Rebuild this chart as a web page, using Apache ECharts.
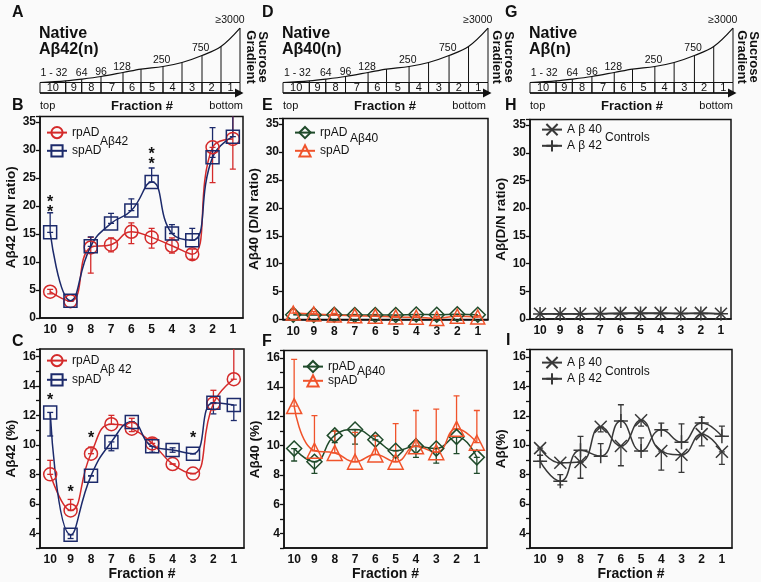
<!DOCTYPE html>
<html><head><meta charset="utf-8">
<script src="https://cdn.jsdelivr.net/npm/echarts/dist/echarts.min.js"></script>
<style>html,body{margin:0;padding:0;background:#fafafa}#c{width:761px;height:582px}</style>
</head><body><div id="c"></div>
<script>
const FONT = 'Liberation Sans, Arial, Helvetica, sans-serif';
const fractions = ['10','9','8','7','6','5','4','3','2','1'];

// sucrose gradient schematic (A, D, G)
const gradientBounds  = [0, 25.7, 41.7, 61, 83, 101, 123, 142, 162, 181, 200];
const gradientHeights = [0, 1.7, 3.4, 6, 10, 13.4, 16, 20, 27, 36, 54.4];
const sizeLabels = ['1 - 32','64','96','128','250','750','≥3000'];
const sizeLabelX = [14, 41.7, 61, 82, 121.7, 160.7, 190];
const sizeLabelY = [9.2, 9.5, 10.8, 15.8, 22.5, 34.2, 62.5];

// B: Abeta42 D/N ratio
const b_rp = [4.7, 3.0, 12.6, 13.1, 15.4, 14.4, 12.9, 11.4, 30.5, 32.0];
const b_sp = [15.3, 3.1, 12.8, 16.9, 19.2, 24.3, 15.1, 13.9, 28.7, 32.4];
const b_rp_lo = [4.3, 3.0, 8.0, 11.8, 13.3, 12.5, 11.6, 10.5, 24.2, 26.6];
const b_rp_hi = [5.1, 3.0, 14.4, 14.3, 17.0, 16.0, 14.3, 12.3, 30.5, 37];
const b_sp_lo = [15.3, 3.1, 12.8, 16.9, 19.2, 24.3, 15.1, 13.9, 28.7, 32.4];
const b_sp_hi = [18.8, 3.1, 14.5, 18.7, 21.3, 26.8, 16.7, 16.0, 34.0, 37];
const b_stars = [[0, 20.3, '*\n*'], [5, 28.9, '*\n*']];

// C: Abeta42 %
const c_rp = [8.0, 5.55, 9.4, 11.4, 11.1, 10.1, 8.7, 8.05, 12.8, 14.45];
const c_sp = [12.2, 3.9, 7.9, 10.2, 11.55, 9.9, 9.65, 9.4, 12.85, 12.7];
const c_rp_lo = [8.0, 5.55, 9.4, 11.4, 10.9, 10.1, 8.7, 8.05, 12.8, 14.45];
const c_rp_hi = [8.95, 6.3, 9.85, 12.0, 11.8, 10.45, 8.7, 8.05, 13.7, 16.6];
const c_sp_lo = [10.6, 3.65, 7.9, 9.6, 11.55, 9.5, 9.5, 9.4, 12.1, 11.65];
const c_sp_hi = [12.2, 3.9, 7.9, 10.2, 11.55, 9.9, 9.8, 9.4, 12.85, 12.7];
const c_stars = [[0, 13.2, '*'], [1, 6.95, '*'], [2, 10.6, '*'], [7, 10.6, '*']];

// E: Abeta40 D/N ratio
const e_rp = [0.85, 0.8, 0.85, 0.8, 0.8, 0.8, 0.9, 0.85, 0.95, 0.85];
const e_sp = [1.15, 1.0, 0.8, 0.65, 0.6, 0.45, 0.4, 0.2, 0.6, 0.45];
const e_sp_lo = [1.15, 1.0, 0.8, 0.65, 0.6, 0.45, 0.4, 0.2, 0.6, 0.45];
const e_sp_hi = [1.8, 1.4, 1.1, 0.9, 0.9, 0.7, 0.7, 0.5, 0.9, 0.7];

// F: Abeta40 %
const f_rp = [9.8, 8.9, 10.7, 11.1, 10.4, 9.65, 9.95, 9.8, 10.6, 9.2];
const f_sp = [12.7, 9.65, 9.5, 8.9, 9.4, 8.9, 9.95, 9.55, 11.15, 10.2];
const f_rp_lo = [8.95, 8.1, 10.2, 10.1, 10.4, 9.2, 9.2, 8.8, 9.45, 8.1];
const f_rp_hi = [9.8, 8.9, 11.0, 11.1, 10.65, 9.65, 9.95, 9.8, 10.6, 9.2];
const f_sp_lo = [12.7, 9.65, 9.5, 8.9, 9.4, 8.9, 9.95, 9.55, 11.15, 10.2];
const f_sp_hi = [15.9, 12.05, 11.0, 10.9, 10.7, 11.5, 12.4, 12.5, 13.4, 12.4];

// H: controls D/N ratio
const h_40 = [0.95, 0.95, 0.95, 1.0, 1.1, 1.1, 1.1, 1.0, 1.1, 0.95];
const h_42 = [0.9, 0.9, 0.9, 0.95, 0.95, 1.0, 1.0, 1.0, 1.0, 0.95];

// I: controls %
const i_40 = [9.8, 8.8, 8.85, 11.25, 9.95, 11.7, 9.6, 9.35, 10.75, 9.55];
const i_42 = [8.9, 7.55, 9.65, 9.25, 11.65, 9.6, 11.05, 10.2, 11.5, 10.6];
const i_40_lo = [9.3, 8.8, 8.85, 10.9, 8.6, 11.3, 8.3, 8.15, 9.95, 8.7];
const i_40_hi = [9.8, 8.8, 8.85, 11.25, 9.95, 11.7, 9.6, 9.35, 10.75, 9.55];
const i_42_lo = [8.9, 7.3, 7.75, 9.25, 11.65, 9.6, 11.05, 10.2, 11.5, 10.6];
const i_42_hi = [9.3, 8.0, 10.6, 10.1, 12.75, 10.5, 11.5, 11.45, 11.9, 11.3];

const RED = '#d42a2a', NAVY = '#1c2a6b', GREEN = '#1f4a2a', ORANGE = '#f0532b', GRAY = '#383838', INK = '#111';
const boxDepth = 10.5;
const CROSS = 'path://M0,0L10,10M10,0L0,10';
const PLUS = 'path://M5,0L5,10M0,5L10,5';

function txtStyle(text, font, align, valign) {
  return {text, font, fill: INK, align, textAlign: align, verticalAlign: valign || 'middle', textVerticalAlign: valign || 'middle'};
}

const grids = [
  {left: 40, top: 26, width: 200, height: 67},
  {left: 283, top: 26, width: 205, height: 67},
  {left: 530, top: 26, width: 203, height: 67},
  {left: 40, top: 116.5, width: 203, height: 201.5},
  {left: 40, top: 349, width: 204, height: 200},
  {left: 283, top: 118.5, width: 205, height: 201},
  {left: 284, top: 350.5, width: 203, height: 201.5},
  {left: 530, top: 119.5, width: 201, height: 199.5},
  {left: 530, top: 349.6, width: 202, height: 200}
].map((g, i) => Object.assign(g, i >= 3 ? {show: true, borderColor: INK, borderWidth: 1.5, backgroundColor: 'transparent'} : {}));

const xAxes = [], yAxes = [];
for (let k = 0; k < 3; k++) {
  xAxes.push({type: 'value', gridIndex: k, min: 0, max: 200, show: false});
  yAxes.push({type: 'value', gridIndex: k, min: -boxDepth, max: 56.5, show: false});
}
function catAxis(gi, withName) {
  return {type: 'category', gridIndex: gi, data: fractions, boundaryGap: true,
    axisLine: {lineStyle: {color: INK, width: 1.5}},
    axisTick: {alignWithLabel: true, length: 4, lineStyle: {color: INK, width: 1.3}},
    axisLabel: {interval: 0, margin: 6, color: INK, fontFamily: FONT, fontWeight: 'bold', fontSize: 12},
    name: withName ? 'Fraction #' : '', nameLocation: 'middle', nameGap: 17,
    nameTextStyle: {fontFamily: FONT, fontWeight: 'bold', fontSize: 14, color: INK},
    splitLine: {show: false}};
}
function valAxis(gi, name, gap, pct) {
  return {type: 'value', gridIndex: gi, min: pct ? 3 : 0, max: pct ? 16.5 : 36, interval: pct ? 1 : 5,
    name, nameLocation: 'middle', nameGap: gap, nameRotate: 90,
    nameTextStyle: {fontFamily: FONT, fontWeight: 'bold', fontSize: 13.5, color: INK},
    axisLine: {show: true, lineStyle: {color: INK, width: 1.5}},
    axisTick: {show: true, length: 4, lineStyle: {color: INK, width: 1.3}},
    axisLabel: {margin: 4, color: INK, fontFamily: FONT, fontWeight: 'bold', fontSize: 12,
      formatter: v => pct ? (v % 2 === 0 ? String(v) : '') : (v % 5 === 0 ? String(v) : '')},
    splitLine: {show: false}};
}
xAxes.push(catAxis(3, false), catAxis(4, true), catAxis(5, false), catAxis(6, true), catAxis(7, false), catAxis(8, true));
yAxes.push(valAxis(3, 'Aβ42 (D/N ratio)', 20, false), valAxis(4, 'Aβ42 (%)', 20, true),
           valAxis(5, 'Aβ40 (D/N ratio)', 17, false), valAxis(6, 'Aβ40 (%)', 18, true),
           valAxis(7, 'Aβ(D/N ratio)', 17, false), valAxis(8, 'Aβ(%)', 18, true));

const series = [];
// schematic series
for (let k = 0; k < 3; k++) {
  series.push({type: 'line', xAxisIndex: k, yAxisIndex: k, data: gradientBounds.map((b, i) => [b, gradientHeights[i]]),
    smooth: 0.35, symbol: 'none', lineStyle: {color: INK, width: 1.2}, silent: true, z: 2});
  series.push({type: 'custom', xAxisIndex: k, yAxisIndex: k, silent: true, z: 3,
    data: fractions.map((f, i) => [gradientBounds[i], gradientBounds[i + 1], gradientHeights[i + 1]]),
    renderItem: (params, api) => {
      const i = params.dataIndex;
      const p0 = api.coord([api.value(0), 0]);
      const p1 = api.coord([api.value(1), -boxDepth]);
      const pt = api.coord([api.value(1), api.value(2)]);
      const st = {stroke: INK, lineWidth: 1, fill: null};
      const ch = [
        {type: 'rect', shape: {x: p0[0], y: p0[1], width: p1[0] - p0[0], height: p1[1] - p0[1]}, style: {stroke: INK, lineWidth: 1, fill: 'rgba(0,0,0,0)'}},
        {type: 'text', x: (p0[0] + p1[0]) / 2, y: (p0[1] + p1[1]) / 2 + 0.5, style: txtStyle(fractions[i], '11px ' + FONT, 'center')},
        {type: 'line', shape: {x1: pt[0], y1: p0[1], x2: pt[0], y2: pt[1]}, style: st}
      ];
      if (i === fractions.length - 1) {
        const s = api.coord([0, -boxDepth]);
        ch.push({type: 'line', shape: {x1: s[0], y1: s[1], x2: p1[0] + 2, y2: p1[1]}, style: {stroke: INK, lineWidth: 1.5}});
        ch.push({type: 'polygon', shape: {points: [[p1[0] - 5, p1[1] - 4.5], [p1[0] + 3.5, p1[1]], [p1[0] - 5, p1[1] + 4.5]]}, style: {fill: INK}});
      }
      return {type: 'group', children: ch};
    }});
  series.push({type: 'custom', xAxisIndex: k, yAxisIndex: k, silent: true, z: 3,
    data: sizeLabels.map((s, i) => [sizeLabelX[i], sizeLabelY[i]]),
    renderItem: (params, api) => {
      const p = api.coord([api.value(0), api.value(1)]);
      return {type: 'text', x: p[0], y: p[1], style: txtStyle(sizeLabels[params.dataIndex], '10.5px ' + FONT, 'center')};
    }});
}

function lineS(name, gi, data, color, symbol, size) {
  return {type: 'line', name, xAxisIndex: gi, yAxisIndex: gi, data, smooth: 0.5, symbol, symbolSize: size,
    showAllSymbol: true, color, lineStyle: {color, width: 1.5},
    itemStyle: {color: 'rgba(0,0,0,0)', borderColor: color, borderWidth: 1.5}, z: 4, silent: true};
}
function errS(gi, lo, hi, color) {
  return {type: 'custom', xAxisIndex: gi, yAxisIndex: gi, clip: true, silent: true, z: 3,
    data: lo.map((l, i) => [i, l, hi[i]]),
    renderItem: (params, api) => {
      const a = api.coord([api.value(0), api.value(1)]);
      const b = api.coord([api.value(0), api.value(2)]);
      const st = {stroke: color, lineWidth: 1.3, fill: null};
      const w = 3;
      return {type: 'group', children: [
        {type: 'line', shape: {x1: a[0], y1: a[1], x2: b[0], y2: b[1]}, style: st},
        {type: 'line', shape: {x1: a[0] - w, y1: a[1], x2: a[0] + w, y2: a[1]}, style: st},
        {type: 'line', shape: {x1: b[0] - w, y1: b[1], x2: b[0] + w, y2: b[1]}, style: st}
      ]};
    }};
}
function starS(gi, pts) {
  return {type: 'custom', xAxisIndex: gi, yAxisIndex: gi, silent: true, z: 5,
    data: pts.map(p => [p[0], p[1]]),
    renderItem: (params, api) => {
      const c = api.coord([api.value(0), api.value(1)]);
      const s = txtStyle(pts[params.dataIndex][2], 'bold 16px ' + FONT, 'center');
      s.lineHeight = 10;
      return {type: 'text', x: c[0], y: c[1] + 3, style: s};
    }};
}

series.push(errS(3, b_rp_lo, b_rp_hi, RED), errS(3, b_sp_lo, b_sp_hi, NAVY),
  lineS('rpAD|B', 3, b_rp, RED, 'circle', 13), lineS('spAD|B', 3, b_sp, NAVY, 'rect', 13), starS(3, b_stars));
series.push(errS(4, c_rp_lo, c_rp_hi, RED), errS(4, c_sp_lo, c_sp_hi, NAVY),
  lineS('rpAD|C', 4, c_rp, RED, 'circle', 13), lineS('spAD|C', 4, c_sp, NAVY, 'rect', 13), starS(4, c_stars));
series.push(errS(5, e_sp_lo, e_sp_hi, ORANGE),
  lineS('rpAD|E', 5, e_rp, GREEN, 'diamond', 15), lineS('spAD|E', 5, e_sp, ORANGE, 'triangle', 14));
series.push(errS(6, f_rp_lo, f_rp_hi, GREEN), errS(6, f_sp_lo, f_sp_hi, ORANGE),
  lineS('rpAD|F', 6, f_rp, GREEN, 'diamond', 15), lineS('spAD|F', 6, f_sp, ORANGE, 'triangle', 15));
series.push(lineS('A β 40|H', 7, h_40, GRAY, CROSS, 12), lineS('A β 42|H', 7, h_42, GRAY, PLUS, 14));
series.push(errS(8, i_40_lo, i_40_hi, GRAY), errS(8, i_42_lo, i_42_hi, GRAY),
  lineS('A β 40|I', 8, i_40, GRAY, CROSS, 12), lineS('A β 42|I', 8, i_42, GRAY, PLUS, 14));

function leg(names, left, top, gap) {
  return {data: names, left, top, orient: 'vertical', padding: 0, itemWidth: 20, itemHeight: 14, itemGap: gap,
    selectedMode: false, formatter: n => n.split('|')[0],
    textStyle: {fontFamily: FONT, fontSize: 12, color: INK}};
}
const legends = [
  leg(['rpAD|B', 'spAD|B'], 46, 126, 5),
  leg(['rpAD|C', 'spAD|C'], 46, 354, 6),
  leg(['rpAD|E', 'spAD|E'], 294, 126, 5),
  leg(['rpAD|F', 'spAD|F'], 302, 360, 1),
  leg(['A β 40|H', 'A β 42|H'], 541, 123, 3),
  leg(['A β 40|I', 'A β 42|I'], 541, 356, 3)
];

const G = [];
function T(text, x, y, font, align, extra) {
  G.push(Object.assign({type: 'text', x, y, silent: true, style: txtStyle(text, font, align || 'left')}, extra || {}));
}
[['A', 12, 13], ['B', 12, 106], ['C', 12, 342], ['D', 262, 13], ['E', 262, 106], ['F', 262, 342],
 ['G', 505, 13], ['H', 505, 106], ['I', 506, 341]].forEach(p => T(p[0], p[1], p[2], 'bold 16px ' + FONT));
const cols = [{l: 40, n: 'Aβ42(n)', sg: 256.5}, {l: 283, n: 'Aβ40(n)', sg: 502.5}, {l: 530, n: 'Aβ(n)', sg: 747.5}];
cols.forEach(c => {
  T('Native', c.l - 1, 34, 'bold 16px ' + FONT);
  T(c.n, c.l - 1, 49.5, 'bold 16px ' + FONT);
  T('top', c.l, 106, '11px ' + FONT);
  T('Fraction #', c.l + 102, 106, 'bold 13px ' + FONT, 'center');
  T('bottom', c.l + 203, 106, '11px ' + FONT, 'right');
  G.push({type: 'text', x: c.sg, y: 57, rotation: -Math.PI / 2, silent: true,
    style: Object.assign(txtStyle('Sucrose\nGradient', 'bold 13px ' + FONT, 'center'), {lineHeight: 12})});
});
T('Aβ42', 100, 142, '12px ' + FONT);
T('Aβ 42', 100, 370, '12px ' + FONT);
T('Aβ40', 350, 139, '12px ' + FONT);
T('Aβ40', 357, 372, '12px ' + FONT);
T('Controls', 605, 138, '12px ' + FONT);
T('Controls', 605, 372, '12px ' + FONT);

const chart = echarts.init(document.getElementById('c'));
chart.setOption({
  backgroundColor: '#fafafa', animation: false,
  grid: grids, xAxis: xAxes, yAxis: yAxes, legend: legends, series, graphic: G
});
</script></body></html>
